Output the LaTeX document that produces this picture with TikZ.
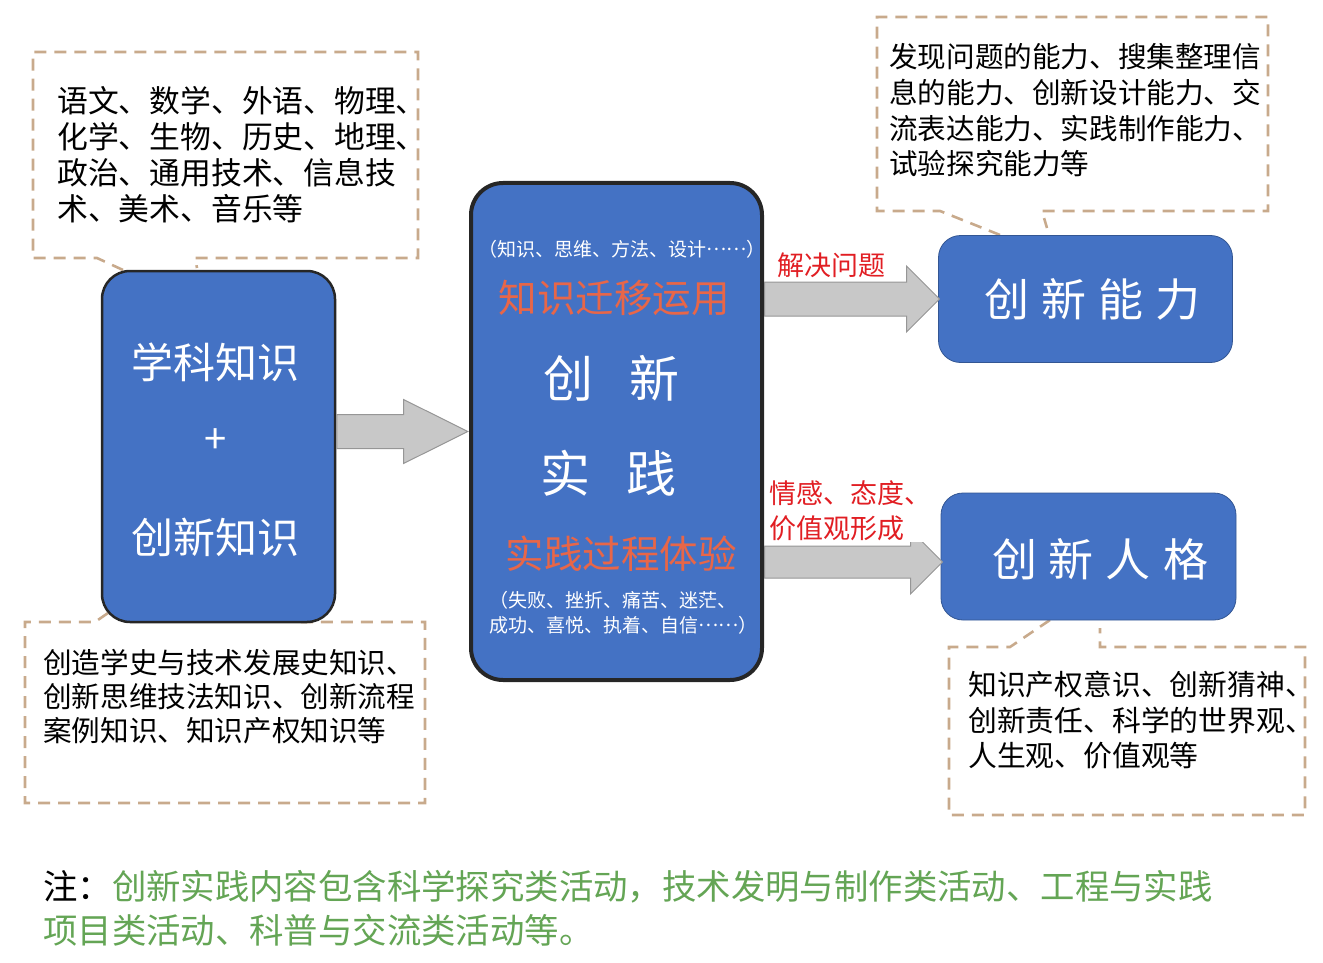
\documentclass[tikz,border=0pt]{standalone}
\usepackage{fontspec}
\usepackage{xcolor}
\newfontfamily\cjk{Noto Sans CJK SC}
\usetikzlibrary{positioning,shapes.arrows,calc}
\definecolor{boxblue}{RGB}{68,114,196}
\definecolor{redtxt}{RGB}{232,102,72}
\definecolor{labred}{RGB}{225,30,35}
\definecolor{calloutc}{RGB}{200,170,140}
\definecolor{arrowfill}{RGB}{200,200,200}
\definecolor{arrowline}{RGB}{150,150,150}
\definecolor{notegreen}{RGB}{100,165,85}
\newcommand{\middots}{\raisebox{0.3em}{……}}

\begin{document}
\begin{tikzpicture}[
  x=1pt, y=-1pt,
  blk/.style={rectangle, rounded corners=28pt, fill=boxblue, draw=black!85, line width=2.5pt, inner sep=0pt},
  rbox/.style={rectangle, rounded corners=22pt, fill=boxblue, draw=boxblue!75!black, line width=0.8pt, inner sep=0pt},
  wtxt/.style={text=white, inner sep=0pt, align=center},
  rtxt/.style={text=redtxt, inner sep=0pt, font=\cjk\fontsize{38.5}{44}\selectfont},
  cnote/.style={align=left, inner sep=0pt, text=black},
  callout/.style={draw=calloutc, line width=2.6pt, dash pattern=on 12pt off 8pt},
  bigarrow/.style={single arrow, draw=arrowline, fill=arrowfill, line width=1pt, inner sep=0pt, text height=33pt, text depth=0pt, single arrow head indent=0pt},
  lab/.style={text=labred, inner sep=1pt, fill=white, align=left, font=\cjk\fontsize{27}{35}\selectfont}
]
\useasboundingbox (0,0) rectangle (1323,963);

\draw[callout] (123,270) -- (97,258) -- (33,258) -- (33,52) -- (418,52) -- (418,258) -- (195,258) -- (197,268);
\draw[callout] (1000,235) -- (940,211) -- (877,211) -- (877,17) -- (1268,17) -- (1268,211) -- (1042,211) -- (1047,228);
\draw[callout] (108,613) -- (95,622) -- (25,622) -- (25,803) -- (425,803) -- (425,622) -- (300,622) -- (290,614);
\draw[callout] (1050,620) -- (1010,647) -- (949,647) -- (949,815) -- (1305,815) -- (1305,647) -- (1100,647) -- (1100,628);

\node[cnote, anchor=west, font=\cjk\fontsize{30.8}{36}\selectfont] (tlnote) at (57,154.5) {语文、数学、外语、物理、\\化学、生物、历史、地理、\\政治、通用技术、信息技\\术、美术、音乐等};
\node[cnote, anchor=west, font=\cjk\fontsize{28.6}{35.7}\selectfont] (trnote) at (889,110.5) {发现问题的能力、搜集整理信\\息的能力、创新设计能力、交\\流表达能力、实践制作能力、\\试验探究能力等};
\node[cnote, anchor=west, font=\cjk\fontsize{28.6}{34}\selectfont] (blnote) at (43,697) {创造学史与技术发展史知识、\\创新思维技法知识、创新流程\\案例知识、知识产权知识等};
\node[cnote, anchor=west, font=\cjk\fontsize{28.8}{35.5}\selectfont] (brnote) at (968,720.5) {知识产权意识、创新猜神、\\创新责任、科学的世界观、\\人生观、价值观等};

\node[blk, minimum width=233, minimum height=351] (lk) at (218.5,446.5) {};
\node[blk, line width=4pt, rounded corners=32pt, minimum width=291, minimum height=497] (cp) at (616.5,431.5) {};
\node[rbox, minimum width=294, minimum height=127] (ab) at (1085.5,299) {};
\node[rbox, minimum width=295, minimum height=127] (ps) at (1088.5,556.5) {};

\node[wtxt, font=\cjk\fontsize{42}{48}\selectfont] (lk1) at (215.5,362) {学科知识};
\node[wtxt, font=\cjk\fontsize{40}{44}\selectfont] (lk2) at (215.5,441) {+};
\node[wtxt, font=\cjk\fontsize{42}{48}\selectfont] (lk3) at (215.5,537) {创新知识};

\node[wtxt, font=\cjk\fontsize{19}{25}\selectfont] (cp1) at (622,249) {（知识、思维、方法、设计\middots）};
\node[rtxt] (cp2) at (614,298) {知识迁移运用};
\node[wtxt, font=\cjk\fontsize{50}{56}\selectfont] (cp3) at (611,378) {创\hspace{36pt}新};
\node[wtxt, font=\cjk\fontsize{50}{56}\selectfont] (cp4) at (608.5,473) {实\hspace{36pt}践};
\node[rtxt] (cp5) at (621,554) {实践过程体验};
\node[wtxt, align=left, anchor=west, font=\cjk\fontsize{19}{25}\selectfont] (cp6) at (489,612.5) {（失败、挫折、痛苦、迷茫、\\成功、喜悦、执着、自信\middots）};

\node[wtxt, font=\cjk\fontsize{45}{50}\selectfont] (ab1) at (1092.5,299) {创\hspace{12pt}新\hspace{12pt}能\hspace{12pt}力};
\node[wtxt, font=\cjk\fontsize{45}{50}\selectfont] (ps1) at (1100,559) {创\hspace{12pt}新\hspace{12pt}人\hspace{12pt}格};

\node[bigarrow, anchor=tail, minimum height=131, minimum width=63, single arrow head extend=15pt, single arrow tip angle=53] (a1) at (lk.east |- cp.west) {};
\node[bigarrow, anchor=tail, minimum height=175, minimum width=65, single arrow head extend=16pt] (a2) at (cp.east |- ab.west) {};
\node[bigarrow, anchor=tail, text height=31pt, minimum height=178, minimum width=63, single arrow head extend=16pt] (a3) at ([yshift=-5.5pt]cp.east |- ps.west) {};

\node[lab, fill=none] (l2) at (831,265) {解决问题};
\node[lab, anchor=west] (l3) at (768,510.5) {情感、态度、\\价值观形成};

\node[anchor=west, align=left, inner sep=0pt, font=\cjk\fontsize{34.4}{44}\selectfont] (note) at (43,908) {注：\textcolor{notegreen}{创新实践内容包含科学探究类活动，技术发明与制作类活动、工程与实践}\\\textcolor{notegreen}{项目类活动、科普与交流类活动等。}};
\end{tikzpicture}
\end{document}
